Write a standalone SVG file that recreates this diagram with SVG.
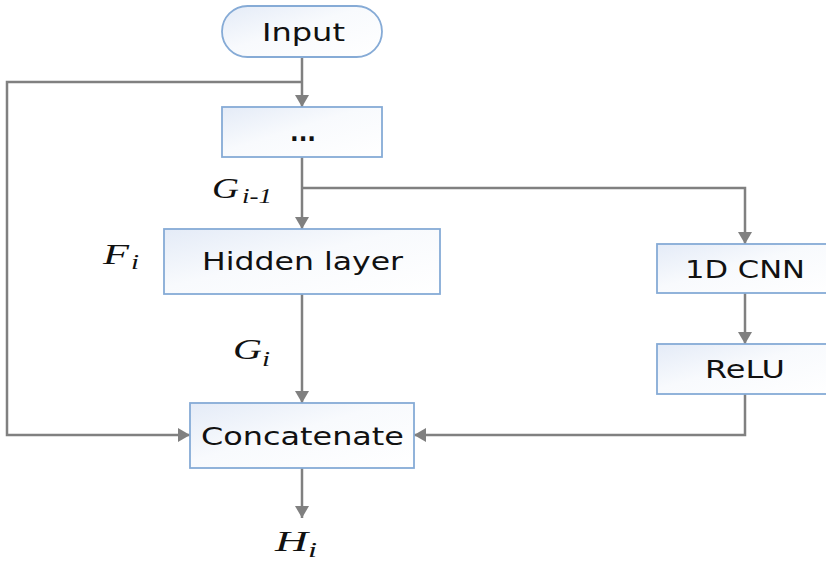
<svg xmlns="http://www.w3.org/2000/svg" width="826" height="561" viewBox="0 0 826 561">
  <defs>
    <linearGradient id="boxFill" x1="0" y1="0" x2="1" y2="1">
      <stop offset="0" stop-color="#e4ebf7"/>
      <stop offset="0.45" stop-color="#f8fafd"/>
      <stop offset="1" stop-color="#ffffff"/>
    </linearGradient>
    <marker id="arrow" viewBox="0 0 12 14" refX="12" refY="7" markerWidth="12" markerHeight="14" markerUnits="userSpaceOnUse" orient="auto">
      <path d="M0,0 L12,7 L0,14 Z" fill="#808080"/>
    </marker>
  </defs>
  <style>
    .node { fill: url(#boxFill); stroke: #86abd6; stroke-width: 1.8; }
    .label { font-family: "DejaVu Sans", Verdana, sans-serif; font-size: 25px; fill: #111; }
    .math { font-family: "Liberation Serif", "Times New Roman", serif; font-style: italic; fill: #111; }
    .conn { fill: none; stroke: #808080; stroke-width: 2.5; }
    .conn-a { fill: none; stroke: #808080; stroke-width: 2.5; marker-end: url(#arrow); }
  </style>
  <rect width="826" height="561" fill="#ffffff"/>

  <!-- connectors -->
  <g id="connectors">
    <path class="conn" d="M302,57 V82"/>
    <path class="conn-a" d="M302,82 V107"/>
    <path class="conn-a" d="M302,82 H7 V435 H190"/>
    <path class="conn-a" d="M302,157 V229"/>
    <path class="conn-a" d="M302,188 H745 V244"/>
    <path class="conn-a" d="M302,294 V403"/>
    <path class="conn-a" d="M745,293 V344"/>
    <path class="conn-a" d="M745,394 V435 H414"/>
    <path class="conn-a" d="M302,468 V518"/>
  </g>

  <!-- nodes -->
  <g id="input">
    <rect class="node" x="222" y="6" width="160" height="51" rx="25.5" ry="25.5"/>
    <text class="label" x="262" y="41" textLength="83" lengthAdjust="spacingAndGlyphs">Input</text>
  </g>
  <g id="previous">
    <rect class="node" x="222" y="107" width="160" height="50"/>
    <text class="label" x="290" y="141" font-weight="bold" textLength="26" lengthAdjust="spacingAndGlyphs">...</text>
  </g>
  <g id="hidden-layer">
    <rect class="node" x="164" y="229" width="276" height="65"/>
    <text class="label" x="202" y="270" textLength="201" lengthAdjust="spacingAndGlyphs">Hidden layer</text>
  </g>
  <g id="cnn">
    <rect class="node" x="657" y="244" width="180" height="49"/>
    <text class="label" x="685" y="278" textLength="120" lengthAdjust="spacingAndGlyphs">1D CNN</text>
  </g>
  <g id="relu">
    <rect class="node" x="657" y="344" width="180" height="50"/>
    <text class="label" x="705" y="378" textLength="80" lengthAdjust="spacingAndGlyphs">ReLU</text>
  </g>
  <g id="concatenate">
    <rect class="node" x="190" y="403" width="224" height="65"/>
    <text class="label" x="201" y="445" textLength="203" lengthAdjust="spacingAndGlyphs">Concatenate</text>
  </g>

  <!-- math labels -->
  <g id="labels">
    <text class="math" x="212" y="198" font-size="29" textLength="27" lengthAdjust="spacingAndGlyphs">G</text>
    <text class="math" x="242" y="203" font-size="21" textLength="30" lengthAdjust="spacingAndGlyphs">i-1</text>
    <text class="math" x="103" y="264" font-size="29" textLength="26" lengthAdjust="spacingAndGlyphs">F</text>
    <text class="math" x="131" y="269" font-size="21" textLength="8" lengthAdjust="spacingAndGlyphs">i</text>
    <text class="math" x="233" y="359" font-size="29" textLength="29" lengthAdjust="spacingAndGlyphs">G</text>
    <text class="math" x="262" y="366" font-size="21" textLength="8" lengthAdjust="spacingAndGlyphs">i</text>
    <text class="math" x="275" y="551" font-size="29" textLength="33" lengthAdjust="spacingAndGlyphs">H</text>
    <text class="math" x="308" y="557" font-size="21" textLength="9" lengthAdjust="spacingAndGlyphs">i</text>
  </g>
</svg>
